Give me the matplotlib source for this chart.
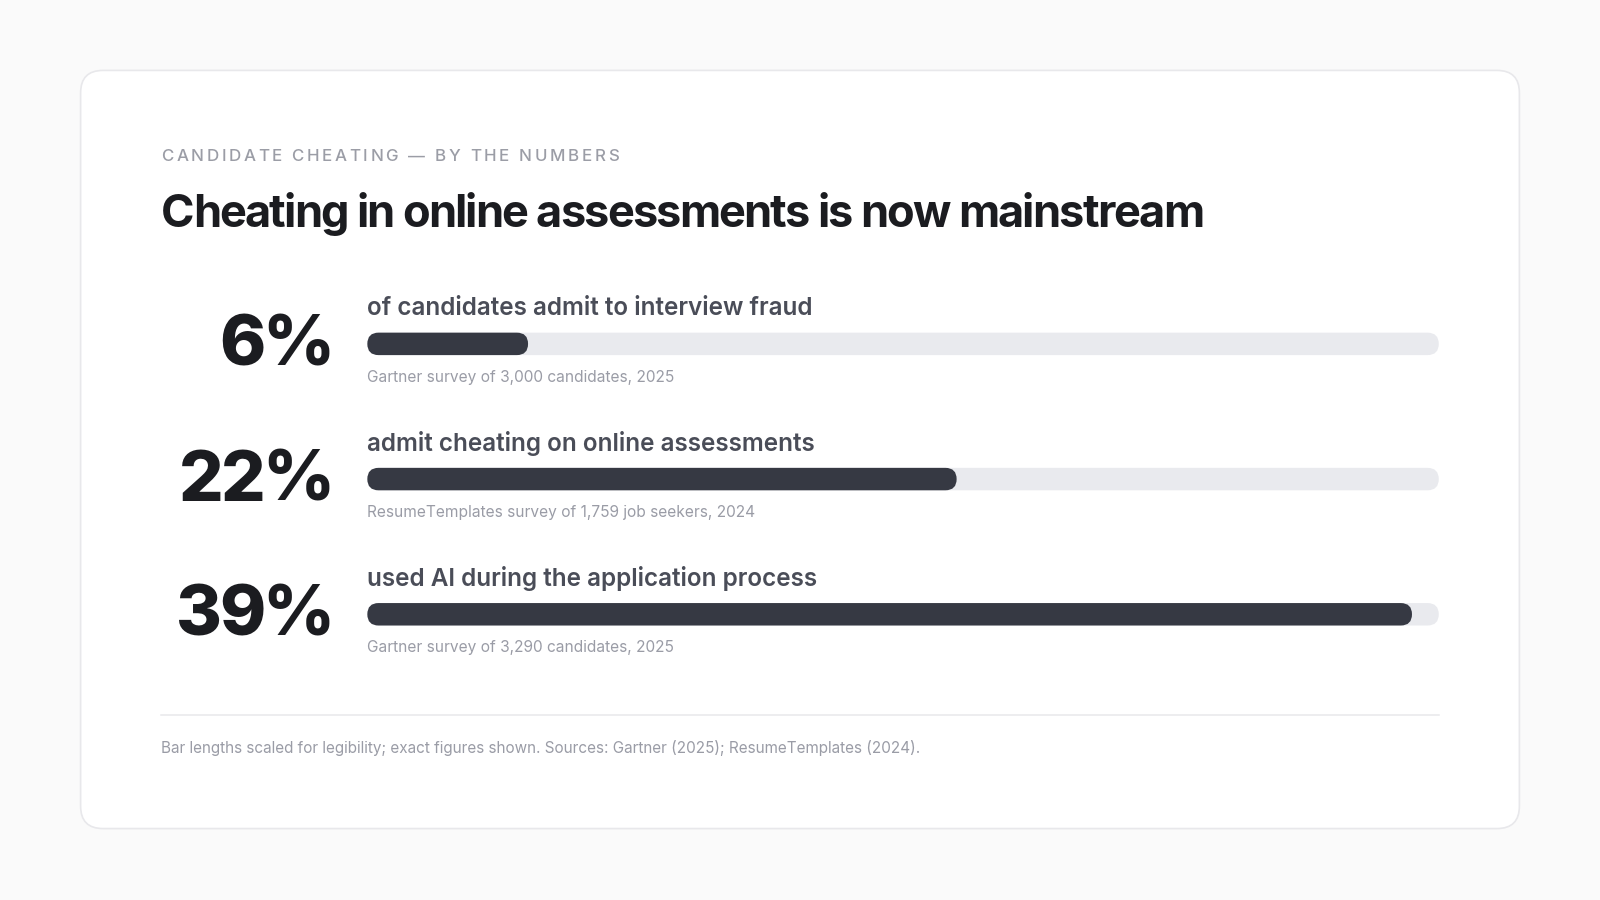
import matplotlib
matplotlib.use("Agg")
import matplotlib.pyplot as plt
from matplotlib.patches import FancyBboxPatch
from matplotlib.font_manager import FontProperties, findfont
from matplotlib.ft2font import FT2Font

# data
percents = [6, 22, 39]
pct_labels = ["6%", "22%", "39%"]
statements = [
    "of candidates admit to interview fraud",
    "admit cheating on online assessments",
    "used AI during the application process",
]
sources = [
    "Gartner survey of 3,000 candidates, 2025",
    "ResumeTemplates survey of 1,759 job seekers, 2024",
    "Gartner survey of 3,290 candidates, 2025",
]
scale_max = 40  # bar lengths scaled for legibility

kicker = "CANDIDATE CHEATING \u2014 BY THE NUMBERS"
title = "Cheating in online assessments is now mainstream"
footer = ("Bar lengths scaled for legibility; exact figures shown. "
          "Sources: Gartner (2025); ResumeTemplates (2024).")

# layout is worked out in a 1568 x 882 px frame, saved at 1600 x 900
W, H = 1568, 882
DPI = 100
PX = 1600 / W          # output px per layout px
PT = PX * 72 / DPI     # points per layout px

FONT = "Inter"
BG = "#fafafa"
INK = "#1b1c20"
LABEL = "#4a4d58"
MUTED = "#9a9ca6"
TRACK = "#e9eaee"
FILL = "#363943"
LINE = "#e8e8eb"

fig = plt.figure(figsize=(16, 9), dpi=DPI, facecolor=BG)
ax = fig.add_axes([0, 0, 1, 1])
ax.set_xlim(0, W)
ax.set_ylim(H, 0)
ax.axis("off")

# card
card = FancyBboxPatch((79, 69), 1410, 743,
                      boxstyle="round,pad=0,rounding_size=22",
                      fc="white", ec=LINE, lw=1.2)
ax.add_patch(card)


def advances(s, size, weight):
    fp = FontProperties(family=FONT, weight=weight)
    ft = FT2Font(findfont(fp))
    ft.set_size(size, DPI)
    return [ft.load_char(ord(ch)).linearHoriAdvance / 65536 / PX for ch in s]


def spaced_text(x, y, s, size, tracking, weight="normal", ha="left", **kw):
    # draw text char by char with letter spacing (tracking in em)
    adv = advances(s, size, weight)
    extra = tracking * size / PT
    total = sum(adv) + extra * (len(s) - 1)
    if ha == "right":
        x -= total
    for ch, a in zip(s, adv):
        ax.text(x, y, ch, fontsize=size, family=FONT, fontweight=weight,
                va="baseline", ha="left", **kw)
        x += a + extra


spaced_text(158, 158, kicker, 12.2, 0.155, weight="medium", color="#9b9da6")

spaced_text(158, 222, title, 32.5, -0.039, weight="bold", color=INK)

row_y = [337, 469.5, 602]
for i in range(len(percents)):
    yc = row_y[i]
    spaced_text(328, yc + 21, pct_labels[i], 50.5, -0.04, weight=800,
                ha="right", color=INK)
    ax.text(360, yc - 28, statements[i], fontsize=17.5, family=FONT,
            fontweight=600, color=LABEL, va="baseline", ha="left")
    ax.text(360, yc + 37, sources[i], fontsize=11.15, family=FONT,
            color=MUTED, va="baseline", ha="left")

# bars on their own axes, x in percent units
bx0, bx1 = 360, 1410
by0, by1 = 270, 670
bax = fig.add_axes([bx0 / W, 1 - by1 / H, (bx1 - bx0) / W, (by1 - by0) / H])
bax.set_xlim(0, scale_max)
step = row_y[1] - row_y[0]
bax.set_ylim((by1 - row_y[0]) / step, (by0 - row_y[0]) / step)
bax.axis("off")
bax.patch.set_alpha(0)

px_x = (bx1 - bx0) / scale_max      # layout px per x unit
px_y = step                         # layout px per y unit
aspect = px_x / px_y
bar_h = 22 / px_y
rad = 11 / px_x
for i, v in enumerate(percents):
    bax.add_patch(FancyBboxPatch((0, i - bar_h / 2), scale_max, bar_h,
                                 boxstyle=f"round,pad=0,rounding_size={rad}",
                                 mutation_aspect=aspect, fc=TRACK, ec="none"))
    bax.add_patch(FancyBboxPatch((0, i - bar_h / 2), v, bar_h,
                                 boxstyle=f"round,pad=0,rounding_size={rad}",
                                 mutation_aspect=aspect, fc=FILL, ec="none"))

# divider and footer
ax.plot([158, 1410], [701, 701], color=LINE, lw=1.1)
ax.text(158, 738, footer, fontsize=11.0, family=FONT, color=MUTED,
        va="baseline", ha="left")

fig.savefig("out.png", dpi=DPI, facecolor=BG)
